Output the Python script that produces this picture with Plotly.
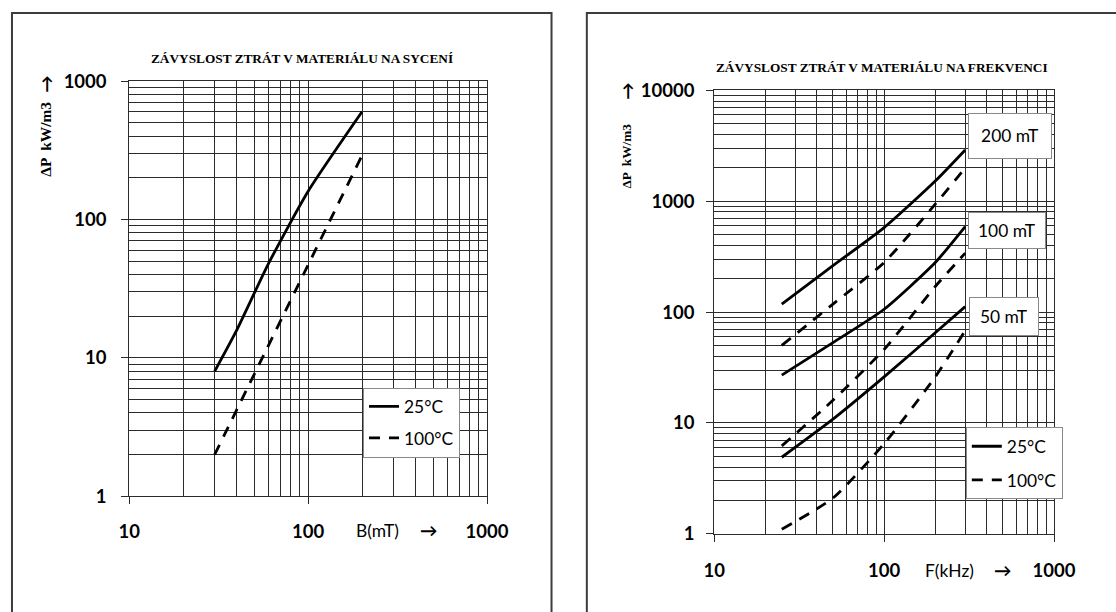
import plotly.graph_objects as go

W, H = 1116, 612

# ---------------- data ----------------
# Left chart: losses vs. flux density
B_mT_25 = [30, 40, 60, 100, 200]
loss_B_25 = [8, 16, 48, 160, 600]
B_mT_100 = [30, 100, 200]
loss_B_100 = [2, 47, 290]

# Right chart: losses vs. frequency
f_kHz = [25, 50, 100, 200, 300]
P200_25 = [118, 262, 578, 1520, 2900]
P200_100 = [50, 118, 280, 940, 2000]
P100_25 = [27, 53, 106, 280, 590]
P100_100 = [6.2, 16, 46, 170, 340]
P50_25 = [4.9, 10.8, 26, 65, 112]
P50_100 = [1.1, 2.1, 6.5, 26, 68]

series_labels = ["25°C", "100°C"]
curve_labels = ["200 mT", "100 mT", "50 mT"]

x_major = [10, 100, 1000]
x_minor = [20, 30, 40, 50, 60, 70, 80, 90, 200, 300, 400, 500, 600, 700, 800, 900]
y_major_left = [1, 10, 100, 1000]
y_major_right = [1, 10, 100, 1000, 10000]
y_minor = [d * m for d in (1, 10, 100, 1000) for m in range(2, 10)]

# ---------------- helpers (target pixel -> paper) ----------------
AX, BX = 0.9756, 8.1
AY, BY = 0.9658, 10.8
FS = 1.0 / AX


def px(x):
    return ((x - BX) / AX) / W


def py(y):
    return (H - (y - BY) / AY) / H


def fs(s):
    return round(s * FS, 1)


GRID = "#2b2b2b"
SANS = "Lato"
SERIF = "Liberation Serif"

DASH = "11px,9px"
LW = 2.8

fig = go.Figure()

# left chart traces
fig.add_trace(go.Scatter(x=B_mT_25, y=loss_B_25, mode="lines", name=series_labels[0],
                         line=dict(color="black", width=LW, shape="spline", smoothing=0.6),
                         xaxis="x", yaxis="y", legend="legend", legendgroup="a"))
fig.add_trace(go.Scatter(x=B_mT_100, y=loss_B_100, mode="lines", name=series_labels[1],
                         line=dict(color="black", width=LW, dash=DASH),
                         xaxis="x", yaxis="y", legend="legend", legendgroup="b"))

# right chart traces
right_sets = [(P200_25, P200_100), (P100_25, P100_100), (P50_25, P50_100)]
for i, (s25, s100) in enumerate(right_sets):
    fig.add_trace(go.Scatter(x=f_kHz, y=s25, mode="lines", name=series_labels[0],
                             line=dict(color="black", width=LW, shape="spline", smoothing=0.6),
                             xaxis="x2", yaxis="y2", legend="legend2", legendgroup="c",
                             showlegend=(i == 0)))
for i, (s25, s100) in enumerate(right_sets):
    fig.add_trace(go.Scatter(x=f_kHz, y=s100, mode="lines", name=series_labels[1],
                             line=dict(color="black", width=LW, dash=DASH, shape="spline", smoothing=0.6),
                             xaxis="x2", yaxis="y2", legend="legend2", legendgroup="d",
                             showlegend=(i == 0)))


def axis_common(tickvals, minor_vals, standoff):
    return dict(
        type="log",
        tickmode="array",
        tickvals=tickvals,
        ticktext=[str(v) for v in tickvals],
        showgrid=True, gridcolor=GRID, gridwidth=1,
        minor=dict(tickmode="array", tickvals=minor_vals, showgrid=True,
                   gridcolor=GRID, gridwidth=1, ticks=""),
        ticks="outside", ticklen=7, tickwidth=1, tickcolor=GRID,
        showline=True, linecolor=GRID, linewidth=1, mirror=True,
        zeroline=False,
        tickfont=dict(family=SANS, size=fs(18), color="black", weight="bold"),
        ticklabelstandoff=standoff,
    )


fig.update_layout(
    width=W, height=H,
    margin=dict(l=0, r=0, t=0, b=0),
    paper_bgcolor="white", plot_bgcolor="white",
    xaxis=dict(domain=[px(127), px(486.7)], anchor="y", range=[1, 3],
               **axis_common(x_major, x_minor, 11)),
    yaxis=dict(domain=[py(496), py(80)], anchor="x", range=[0, 3],
               **axis_common(y_major_left, y_minor, 11)),
    xaxis2=dict(domain=[px(715), px(1056.7)], anchor="y2", range=[1, 3],
                **axis_common(x_major, x_minor, 13)),
    yaxis2=dict(domain=[py(533.5), py(89.3)], anchor="x2", range=[0, 4],
                **axis_common(y_major_right, y_minor, 8)),
    legend=dict(x=px(362), y=py(387), xanchor="left", yanchor="top",
                bgcolor="white", bordercolor="#8a8a8a", borderwidth=1,
                font=dict(family=SANS, size=fs(17), color="black"),
                tracegroupgap=6, itemwidth=30),
    legend2=dict(x=px(968), y=py(427), xanchor="left", yanchor="top",
                 bgcolor="white", bordercolor="#8a8a8a", borderwidth=1,
                 font=dict(family=SANS, size=fs(17), color="black"),
                 tracegroupgap=8, itemwidth=30),
    showlegend=True,
)

ann = []
# titles
ann.append(dict(text="ZÁVYSLOST ZTRÁT V MATERIÁLU NA SYCENÍ", x=px(301), y=py(57),
                font=dict(family=SERIF, size=fs(13), color="black", weight="bold")))
ann.append(dict(text="ZÁVYSLOST ZTRÁT V MATERIÁLU NA FREKVENCI", x=px(884), y=py(66),
                font=dict(family=SERIF, size=fs(13), color="black", weight="bold")))
# y axis titles
ann.append(dict(text="ΔP  kW/m3", x=px(43), y=py(138), textangle=-90,
                font=dict(family=SERIF, size=fs(15), color="black", weight="bold")))
ann.append(dict(text="→", x=px(43), y=py(83), textangle=-90,
                font=dict(family=SANS, size=fs(17), color="black", weight="bold")))
ann.append(dict(text="ΔP  kW/m3", x=px(627), y=py(155), textangle=-90,
                font=dict(family=SERIF, size=fs(13), color="black", weight="bold")))
ann.append(dict(text="→", x=px(627), y=py(90), textangle=-90,
                font=dict(family=SANS, size=fs(17), color="black", weight="bold")))
# x axis titles
ann.append(dict(text="B(mT)", x=px(377), y=py(530),
                font=dict(family=SANS, size=fs(17), color="black")))
ann.append(dict(text="→", x=px(428), y=py(530),
                font=dict(family=SANS, size=fs(17), color="black", weight="bold")))
ann.append(dict(text="F(kHz)", x=px(952), y=py(570),
                font=dict(family=SANS, size=fs(17), color="black")))
ann.append(dict(text="→", x=px(1005), y=py(570),
                font=dict(family=SANS, size=fs(17), color="black", weight="bold")))

# curve labels (boxes): left edge, centre y, width, height (target pixels)
boxes = [(970.7, 135, 82, 44), (970.7, 230, 76, 36), (971.7, 316, 68, 38)]
for lab, (bx, by, bw, bh) in zip(curve_labels, boxes):
    ann.append(dict(text=lab, x=px(bx), y=py(by), xanchor="left", yanchor="middle",
                    width=bw / AX - 2, height=bh / AY - 2, align="center", valign="middle",
                    bgcolor="white", bordercolor="#8a8a8a", borderwidth=1, borderpad=0,
                    font=dict(family=SANS, size=fs(17), color="black")))

for a in ann:
    a.setdefault("xref", "paper")
    a.setdefault("yref", "paper")
    a.setdefault("showarrow", False)
    a.setdefault("xanchor", "center")
    a.setdefault("yanchor", "middle")
fig.update_layout(annotations=ann)

# chart frames
top = min(py(8), (H - 1) / H)
fig.update_layout(shapes=[
    dict(type="rect", xref="paper", yref="paper", x0=max(px(8), 1 / W), x1=px(551.5), y0=-0.2, y1=top,
         line=dict(color="#3c3c3c", width=2), fillcolor="rgba(0,0,0,0)", layer="below"),
    dict(type="rect", xref="paper", yref="paper", x0=px(587), x1=1.2, y0=-0.2, y1=top,
         line=dict(color="#3c3c3c", width=2), fillcolor="rgba(0,0,0,0)", layer="below"),
])

fig.write_html("out.html")
